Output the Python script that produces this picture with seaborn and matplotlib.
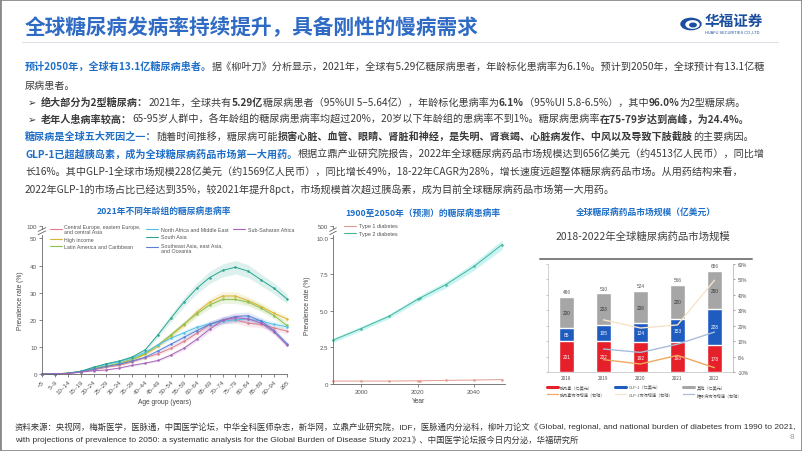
import numpy as np
import pandas as pd
import matplotlib
matplotlib.use("Agg")
import matplotlib.pyplot as plt
import seaborn as sns
from matplotlib.patches import Rectangle, Circle
from matplotlib.lines import Line2D

# ---------------- data ----------------
title = "全球糖尿病发病率持续提升，具备刚性的慢病需求"

ages = ["<5", "5–9", "10–14", "15–19", "20–24", "25–29", "30–34", "35–39", "40–44", "45–49",
        "50–54", "55–59", "60–64", "65–69", "70–74", "75–79", "80–84", "85–89", "90–94", "≥95"]
regions = ["Central Europe, eastern Europe,\nand central Asia", "High income",
           "Latin America and Caribbean", "North Africa and Middle East", "South Asia",
           "Southeast Asia, east Asia,\nand Oceania", "Sub-Saharan Africa"]
central_europe = [0, 0.05, 0.2, 0.8, 1.5, 2.5, 3.2, 4.5, 6.0, 7.5, 9.5, 12.0, 15.0, 18.2, 19.8, 20.0, 18.7, 18.3, 17.0, 15.8]
high_income = [0, 0.05, 0.3, 0.9, 2.0, 2.8, 3.8, 5.2, 7.2, 10.2, 14.2, 18.1, 22.8, 26.5, 28.8, 28.8, 27.0, 24.9, 22.4, 20.3]
latin_america = [0, 0.05, 0.3, 0.9, 2.1, 3.0, 4.0, 5.5, 7.6, 10.8, 14.5, 18.5, 22.2, 25.5, 27.5, 27.5, 26.5, 24.3, 21.5, 17.9]
north_africa = [0, 0.05, 0.3, 1.0, 2.4, 3.6, 4.6, 6.0, 8.0, 10.8, 13.2, 15.2, 17.2, 18.5, 19.5, 20.0, 20.3, 19.5, 18.3, 17.4]
south_asia = [0, 0.05, 0.3, 1.0, 2.5, 3.8, 4.8, 6.3, 8.9, 14.5, 20.6, 26.5, 31.6, 35.6, 38.2, 39.4, 37.9, 34.7, 31.6, 27.7]
southeast_asia = [0, 0.05, 0.2, 0.8, 1.8, 2.8, 3.6, 4.8, 6.2, 8.5, 11.0, 13.5, 16.0, 18.3, 20.0, 21.2, 21.5, 19.5, 16.0, 11.2]
sub_saharan = [0, 0.05, 0.2, 0.7, 1.2, 1.5, 2.2, 3.2, 4.0, 5.0, 7.0, 9.5, 12.8, 16.5, 19.8, 20.8, 20.3, 18.8, 15.5, 10.6]
region_values = [central_europe, high_income, latin_america, north_africa, south_asia, southeast_asia, sub_saharan]
region_uncertainty = [0.06, 0.05, 0.05, 0.05, 0.06, 0.06, 0.06]
region_colors = ["#E07C8E", "#D9B534", "#8CC152", "#4FC1E6", "#2AA58F", "#5B7DD8", "#A864B8"]

years2 = [1990, 2000, 2010, 2020, 2021, 2030, 2040, 2050]
type1 = [0.20, 0.20, 0.20, 0.22, 0.22, 0.25, 0.27, 0.30]
type2 = [3.00, 3.80, 4.65, 5.80, 5.90, 6.80, 8.05, 9.55]
type2_band = [0.15, 0.15, 0.15, 0.18, 0.18, 0.22, 0.26, 0.32]

bar_years = ["2018", "2019", "2020", "2021", "2022"]
insulin = [201, 202, 192, 193, 178]
glp1 = [85, 105, 124, 153, 228]
other = [200, 203, 208, 220, 250]
totals = [486, 510, 524, 566, 656]
insulin_growth = [np.nan, -2.0, -4.8, 0.8, -7.2]
glp1_growth = [np.nan, 23.8, 18.5, 20.5, 49.5]
total_growth = [np.nan, 4.9, 2.7, 8.0, 15.9]

# ---------------- setup ----------------
W, H = 802, 452
sns.set_theme(style="white")
CJK = ["Noto Sans CJK SC", "DejaVu Sans"]
LAT = ["Liberation Sans", "Noto Sans CJK SC", "DejaVu Sans"]
plt.rcParams["font.family"] = CJK
plt.rcParams["axes.unicode_minus"] = False

fig = plt.figure(figsize=(W / 100, H / 100), dpi=100)
fig.patch.set_facecolor("white")
R = fig.canvas.get_renderer()


def X(px):
    return px / W


def Y(py):
    return 1 - py / H


def ax_at(l, t, r, b):
    return fig.add_axes([X(l), Y(b), (r - l) / W, (b - t) / H])


def runs(x, y, parts, size=7.0, family=CJK):
    for txt, color, weight in parts:
        t = fig.text(X(x), Y(y), txt, color=color, fontweight=weight, fontsize=size,
                     family=family, va="center", ha="left")
        x += t.get_window_extent(R).width
    return x


# frame
fig.add_artist(Rectangle((0, 0), 1, 1, transform=fig.transFigure, fill=False,
                         edgecolor="#8A8A8A", lw=2.0))

# title + separator
fig.text(X(25), Y(28), title, fontsize=14.9, fontweight="bold", color="#2F6BC4", va="center")
fig.add_artist(Line2D([X(22), X(778)], [Y(43), Y(43)], color="#DCE1EA", lw=0.8))

# logo
fig.add_artist(Circle((X(691), Y(25)), 10 / W, transform=fig.transFigure, color="#1C4E9E"))
fig.add_artist(Circle((X(692.5), Y(25.5)), 6.5 / W, transform=fig.transFigure, color="white"))
fig.add_artist(Circle((X(693), Y(26)), 3.2 / W, transform=fig.transFigure, color="#1C4E9E"))
fig.text(X(705), Y(21), "华福证券", fontsize=10.5, fontweight="bold", color="#1C4E9E", va="center")
fig.text(X(705), Y(33), "HUAFU SECURITIES CO.,LTD", fontsize=2.8, color="#1C4E9E", va="center",
         family=LAT)

# ---------------- text block ----------------
D = "#3A3A3A"
B = "#1F6FC8"
TS = 7.25
runs(25, 67, [("预计2050年，全球有13.1亿糖尿病患者。", B, "bold"),
              ("据《柳叶刀》分析显示，2021年，全球有5.29亿糖尿病患者，年龄标化患病率为6.1%。预计到2050年，全球预计有13.1亿糖", D, "normal")], size=TS)
runs(25, 86, [("尿病患者。", D, "normal")], size=TS)
runs(28, 103, [("➢  ", D, "normal"), ("绝大部分为2型糖尿病：", D, "bold"),
               ("2021年，全球共有", D, "normal"), ("5.29亿", D, "bold"),
               ("糖尿病患者（95%UI 5–5.64亿），年龄标化患病率为", D, "normal"), ("6.1%", D, "bold"),
               ("（95%UI 5.8-6.5%），其中", D, "normal"), ("96.0%", D, "bold"), ("为2型糖尿病。", D, "normal")], size=TS)
runs(28, 120, [("➢  ", D, "normal"), ("老年人患病率较高：", D, "bold"),
               ("65-95岁人群中，各年龄组的糖尿病患病率均超过20%，20岁以下年龄组的患病率不到1%。糖尿病患病率", D, "normal"),
               ("在75-79岁达到高峰，为24.4%。", D, "bold")], size=TS)
runs(25, 137, [("糖尿病是全球五大死因之一：", B, "bold"), ("随着时间推移，糖尿病可能", D, "normal"),
               ("损害心脏、血管、眼睛、肾脏和神经，是失明、肾衰竭、心脏病发作、中风以及导致下肢截肢", D, "bold"),
               ("的主要病因。", D, "normal")], size=TS)
runs(25, 155, [("GLP-1已超越胰岛素，成为全球糖尿病药品市场第一大用药。", B, "bold"),
               ("根据立鼎产业研究院报告，2022年全球糖尿病药品市场规模达到656亿美元（约4513亿人民币），同比增", D, "normal")], size=TS)
runs(25, 173, [("长16%。其中GLP-1全球市场规模228亿美元（约1569亿人民币），同比增长49%，18-22年CAGR为28%，增长速度远超整体糖尿病药品市场。从用药结构来看，", D, "normal")], size=TS)
runs(25, 190, [("2022年GLP-1的市场占比已经达到35%，较2021年提升8pct，市场规模首次超过胰岛素，成为目前全球糖尿病药品市场第一大用药。", D, "normal")], size=TS)

# chart titles
CT = "#1F6FC8"
fig.text(X(164), Y(212), "2021年不同年龄组的糖尿病患病率", fontsize=6.3, fontweight="bold", color=CT, ha="center", va="center")
fig.text(X(423), Y(213), "1900至2050年（预测）的糖尿病患病率", fontsize=6.3, fontweight="bold", color=CT, ha="center", va="center")
fig.text(X(646), Y(213), "全球糖尿病药品市场规模（亿美元）", fontsize=6.3, fontweight="bold", color=CT, ha="center", va="center")

# ---------------- chart 1 ----------------
ax1 = ax_at(42, 227, 287, 375)
pos = np.arange(len(ages))
rows = []
for r, vals in zip(regions, region_values):
    for p, v in zip(pos, vals):
        rows.append({"pos": p, "val": v, "region": r})
df1 = pd.DataFrame(rows)
pal = dict(zip(regions, region_colors))
for r, vals, u, c in zip(regions, region_values, region_uncertainty, region_colors):
    v = np.array(vals)
    ax1.fill_between(pos, v * (1 - u) - 0.1, v * (1 + u) + 0.1, color=c, alpha=0.16, lw=0)
sns.lineplot(data=df1, x="pos", y="val", hue="region", hue_order=regions, palette=pal,
             marker="o", markersize=1.8, markeredgewidth=0, linewidth=0.7, ax=ax1, legend=False)
for l in ax1.lines:
    l.set_clip_on(False)
ax1.set_xlim(0, 19)
ax1.set_ylim(0, 54.6)
ax1.set_xticks(pos)
ax1.set_xticklabels(ages, rotation=45, ha="right", rotation_mode="anchor", family=LAT)
ax1.set_yticks([0, 10, 20, 30, 40, 50, 54.6])
ax1.set_yticklabels(["0", "10", "20", "30", "40", "50", "100"], family=LAT)
ax1.tick_params(labelsize=4.5, colors="#555555", length=2, width=0.5, pad=1.5, left=True, bottom=True)
for s in ["top", "right"]:
    ax1.spines[s].set_visible(False)
for s in ["left", "bottom"]:
    ax1.spines[s].set_color("#666666")
    ax1.spines[s].set_linewidth(0.6)
ax1.set_xlabel("Age group (years)", fontsize=4.8, color="#444444", family=LAT, labelpad=2)
ax1.set_ylabel("Prevalence rate (%)", fontsize=4.8, color="#444444", family=LAT, labelpad=2)
ax1.add_patch(Rectangle((-0.35, 51.6), 0.7, 1.6, color="white", clip_on=False, zorder=5))
for yy in (51.4, 52.6):
    ax1.plot([-0.3, 0.3], [yy, yy + 1.4], color="#666666", lw=0.6, clip_on=False, zorder=6)
h1 = [Line2D([], [], color=c, lw=0.8) for c in region_colors]
blank = Line2D([], [], color="none", lw=0)
leg1 = ax1.legend(h1 + [blank, blank], regions + ["", ""], ncol=3, loc="upper left",
                  bbox_to_anchor=(0.025, 1.03), frameon=False,
                  prop={"family": LAT, "size": 3.8}, handlelength=2.2, handletextpad=0.5,
                  columnspacing=1.0, labelspacing=0.45, borderaxespad=0)
for t in leg1.get_texts():
    t.set_color("#555555")

# ---------------- chart 2 ----------------
ax2 = ax_at(333, 227, 505, 385)
t2 = np.array(type2)
bd = np.array(type2_band)
ax2.fill_between(years2, t2 - bd, t2 + bd, color="#A8EDEE", alpha=0.6, lw=0)
df2 = pd.DataFrame({"year": years2 * 2, "val": type1 + type2,
                    "type": ["Type 1 diabetes"] * len(years2) + ["Type 2 diabetes"] * len(years2)})
sns.lineplot(data=df2, x="year", y="val", hue="type", palette={"Type 1 diabetes": "#E39A8E", "Type 2 diabetes": "#45B595"},
             marker="o", markersize=1.8, markeredgewidth=0, linewidth=0.7, ax=ax2, legend=False)
for l in ax2.lines:
    l.set_clip_on(False)
ax2.set_xlim(1990, 2051)
ax2.set_ylim(0, 10.82)
ax2.set_xticks([2000, 2020, 2040])
ax2.set_xticklabels(["2000", "2020", "2040"], family=LAT)
ax2.set_yticks([0, 2.5, 5.0, 7.5, 10.0, 10.82])
ax2.set_yticklabels(["0", "2.5", "5.0", "7.5", "10.0", "500"], family=LAT)
ax2.tick_params(labelsize=4.4, colors="#555555", length=2, width=0.5, pad=1.5, left=True, bottom=True)
for s in ["top", "right"]:
    ax2.spines[s].set_visible(False)
for s in ["left", "bottom"]:
    ax2.spines[s].set_color("#666666")
    ax2.spines[s].set_linewidth(0.6)
ax2.set_xlabel("Year", fontsize=4.8, color="#444444", family=LAT, labelpad=2)
ax2.set_ylabel("Prevalence rate (%)", fontsize=4.8, color="#444444", family=LAT, labelpad=4)
ax2.add_patch(Rectangle((1989.2, 10.3), 1.6, 0.3, color="white", clip_on=False, zorder=5))
for yy in (10.22, 10.45):
    ax2.plot([1988.8, 1991.2], [yy, yy + 0.25], color="#666666", lw=0.6, clip_on=False, zorder=6)
h2 = [Line2D([], [], color="#E39A8E", lw=0.8), Line2D([], [], color="#45B595", lw=0.8)]
leg2 = ax2.legend(h2, ["Type 1 diabetes", "Type 2 diabetes"], loc="upper left", bbox_to_anchor=(0.05, 1.03),
                  frameon=False, prop={"family": LAT, "size": 4.0}, handlelength=2.2, handletextpad=0.6,
                  labelspacing=0.45, borderaxespad=0)
for t in leg2.get_texts():
    t.set_color("#555555")

# ---------------- chart 3 ----------------
fig.text(X(643), Y(237), "2018-2022年全球糖尿病药品市场规模", fontsize=7.5, color="#404040", ha="center", va="center")
fig.add_artist(Line2D([X(540), X(752)], [Y(260), Y(260)], color="#7F7F7F", lw=1.4))
ax3 = ax_at(548, 265, 733, 373)
glp_top = [a + b for a, b in zip(insulin, glp1)]
df3 = pd.DataFrame({"year": bar_years, "total": totals, "glp_top": glp_top, "insulin": insulin})
sns.barplot(data=df3, x="year", y="total", color="#A6A6A6", width=0.4, ax=ax3, saturation=1)
sns.barplot(data=df3, x="year", y="glp_top", color="#1F5CC0", width=0.4, ax=ax3, saturation=1)
sns.barplot(data=df3, x="year", y="insulin", color="#E5202A", width=0.4, ax=ax3, saturation=1)
ax3.set_xlim(-0.5, 4.5)
ax3.set_ylim(0, 700)
ax3.set_yticks(range(0, 701, 100))
ax3.tick_params(axis="y", labelleft=False, left=True, length=1.5, width=0.4, colors="#999999")
ax3.tick_params(axis="x", labelsize=3.4, colors="#555555", length=0, pad=2)
ax3.set_xlabel("")
ax3.set_ylabel("")
ax3.spines["top"].set_visible(False)
for s in ["left", "bottom", "right"]:
    ax3.spines[s].set_color("#BFBFBF")
    ax3.spines[s].set_linewidth(0.5)
for i in range(len(bar_years)):
    ax3.text(i, insulin[i] / 2, str(insulin[i]), color="white", fontsize=3.4, ha="center", va="center", family=LAT)
    ax3.text(i, insulin[i] + glp1[i] / 2, str(glp1[i]), color="white", fontsize=3.4, ha="center", va="center", family=LAT)
    ax3.text(i, glp_top[i] + other[i] / 2, str(other[i]), color="#333333", fontsize=3.4, ha="center", va="center", family=LAT)
    ax3.text(i, totals[i] + 18, str(totals[i]), color="#555555", fontsize=3.4, ha="center", va="bottom", family=LAT)
ax3b = ax3.twinx()
df3b = pd.DataFrame({"year": bar_years * 3, "g": insulin_growth + glp1_growth + total_growth,
                     "k": ["ins"] * 5 + ["glp"] * 5 + ["tot"] * 5})
sns.lineplot(data=df3b, x="year", y="g", hue="k", palette={"ins": "#F0A860", "glp": "#F7E3CC", "tot": "#A9BDD9"},
             linewidth=1.0, ax=ax3b, legend=False)
ax3b.set_ylim(-10, 60)
ax3b.set_yticks(range(-10, 61, 10))
ax3b.set_yticklabels([f"{v}%" for v in range(-10, 61, 10)], family=LAT)
ax3b.tick_params(axis="y", labelsize=3.4, colors="#555555", length=1.5, width=0.4, pad=2)
ax3b.set_ylabel("")
for s in ["top", "left", "bottom"]:
    ax3b.spines[s].set_visible(False)
ax3b.spines["right"].set_color("#BFBFBF")
ax3b.spines["right"].set_linewidth(0.5)
h3 = [Line2D([], [], color="#E5202A", lw=2.2), Line2D([], [], color="#F0A860", lw=0.9),
      Line2D([], [], color="#1F5CC0", lw=2.2), Line2D([], [], color="#F7E3CC", lw=0.9),
      Line2D([], [], color="#A6A6A6", lw=2.2), Line2D([], [], color="#A9BDD9", lw=0.9)]
l3 = ["胰岛素（亿美元）", "胰岛素市场增速（右轴）", "GLP-1（亿美元）", "GLP-1市场增速（右轴）",
      "其他（亿美元）", "糖尿病市场增速（右轴）"]
leg3 = fig.legend(h3, l3, ncol=3, loc="upper left", bbox_to_anchor=(X(545), Y(384)), frameon=False,
                  prop={"family": CJK, "size": 3.0}, handlelength=2.6, handletextpad=0.6,
                  columnspacing=2.4, labelspacing=0.6, borderaxespad=0)
for t in leg3.get_texts():
    t.set_color("#555555")

# ---------------- footer ----------------
FG = "#333333"
runs(15, 428, [("资料来源：央视网，梅斯医学，医脉通，中国医学论坛，中华全科医师杂志，新华网，立鼎产业研究院，IDF，医脉通内分泌科，柳叶刀论文《", FG, "normal"),
               ("Global, regional, and national burden of diabetes from 1990 to 2021,", FG, "normal")], size=6.0, family=LAT)
runs(15, 441, [("with projections of prevalence to 2050: a systematic analysis for the Global Burden of Disease Study 2021", FG, "normal"),
               ("》、中国医学论坛报今日内分泌，华福研究所", FG, "normal")], size=6.0, family=LAT)
fig.text(X(790), Y(438), "8", fontsize=6, color="#999999", va="center", family=LAT)

fig.savefig("out.png", dpi=100, facecolor="white")
